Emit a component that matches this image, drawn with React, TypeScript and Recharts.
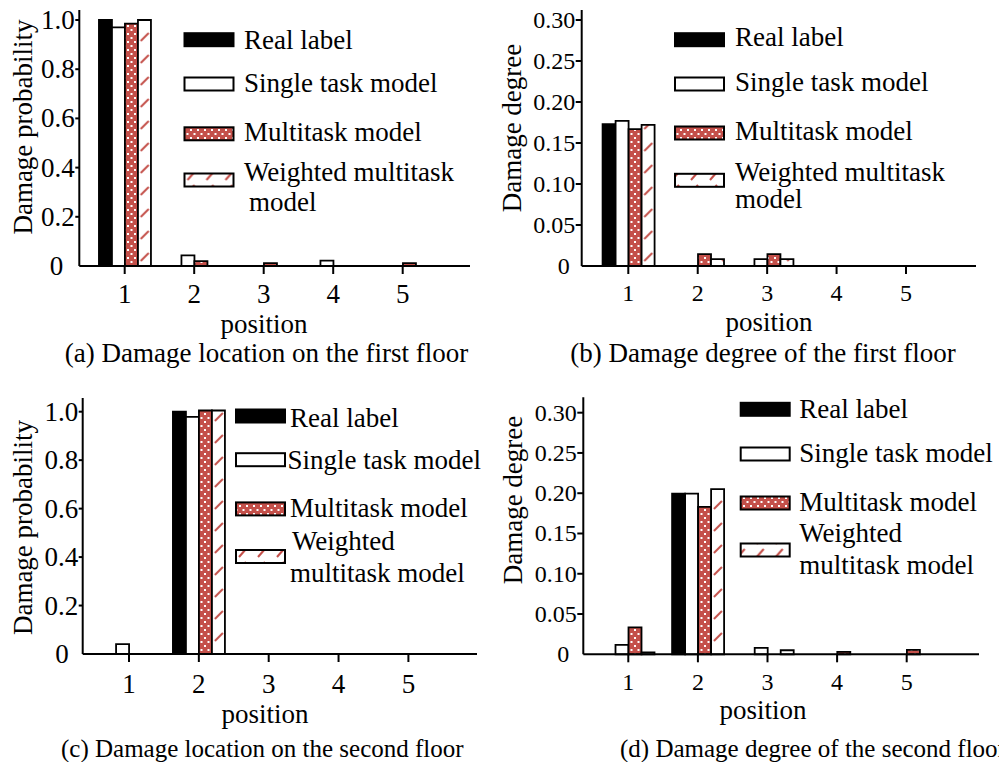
import React from 'react';
import { BarChart, Bar, XAxis, YAxis, Legend } from 'recharts';

const FONT = '"Liberation Serif", "Times New Roman", serif';
const RED = '#c4504a';

const positions = ['1', '2', '3', '4', '5'];
const seriesKeys = ['real', 'single', 'multi', 'weighted'];
const seriesNames = ['Real label', 'Single task model', 'Multitask model', 'Weighted multitask model'];

// (a) damage location on the first floor
const realA = [1, 0, 0, 0, 0];
const singleA = [0.97, 0.043, 0, 0.022, 0];
const multiA = [0.985, 0.02, 0.012, 0, 0.012];
const weightedA = [1, 0, 0, 0, 0];

// (b) damage degree of the first floor
const realB = [0.173, 0, 0, 0, 0];
const singleB = [0.177, 0, 0.0085, 0, 0];
const multiB = [0.167, 0.0146, 0.0146, 0, 0];
const weightedB = [0.172, 0.0085, 0.0085, 0, 0];

// (c) damage location on the second floor
const realC = [0, 1, 0, 0, 0];
const singleC = [0.041, 0.979, 0, 0, 0];
const multiC = [0, 1.005, 0, 0, 0];
const weightedC = [0, 1.005, 0, 0, 0];

// (d) damage degree of the second floor
const realD = [0, 0.1995, 0, 0, 0];
const singleD = [0.0116, 0.1995, 0.008, 0, 0];
const multiD = [0.0335, 0.183, 0, 0.003, 0.0055];
const weightedD = [0.0025, 0.205, 0.005, 0, 0];

const probTicks = [0, 0.2, 0.4, 0.6, 0.8, 1.0];
const degreeTicks = [0, 0.05, 0.1, 0.15, 0.2, 0.25, 0.3];

const rows = (real: number[], single: number[], multi: number[], weighted: number[]) =>
  positions.map((pos, i) => ({ pos, real: real[i], single: single[i], multi: multi[i], weighted: weighted[i] }));

type LegendRow = { swatchY: number; lines: { text: string; y: number; x?: number }[] };

type PanelProps = {
  id: string;
  box: { left: number; top: number; width: number; height: number };
  plot: { x0: number; x1: number; y0: number; y1: number; tick1: number; tick5: number };
  data: any[];
  mainCat: number;
  yMax: number;
  ticks: number[];
  decimals: number;
  tickFont: number;
  tickLen: number;
  zeroShift: number;
  xLabelGap: number;
  legend: { swatchX: number; textX: number; rows: LegendRow[] };
};

const BAR = 13;

function Panel(p: PanelProps) {
  const { box, plot } = p;
  const band = (plot.tick5 - plot.tick1) / 4;
  const padL = plot.tick1 - plot.x0 - band / 2;
  const padR = plot.x1 - plot.tick5 - band / 2;
  const yAxisW = 60;
  const xAxisH = 40;
  const margin = {
    left: plot.x0 - box.left - yAxisW,
    right: box.left + box.width - plot.x1,
    top: plot.y0 - box.top,
    bottom: box.top + box.height - plot.y1 - xAxisH,
  };
  const fills = ['#000', '#fff', `url(#dots-${p.id})`, `url(#hatch-${p.id})`];
  // align the hatch tile with the tallest weighted bar
  const hatchX = plot.tick1 + p.mainCat * band - box.left + 13;

  const yTick = (props: any) => {
    const { x, y, payload } = props;
    const v = payload.value as number;
    return (
      <g>
        {v !== 0 && <line x1={x} x2={x + p.tickLen} y1={y} y2={y} stroke="#000" strokeWidth={2} />}
        <text
          x={v === 0 ? x - p.zeroShift : x - 0.5}
          y={y}
          textAnchor="end"
          dominantBaseline="central"
          fontSize={p.tickFont}
          fontFamily={FONT}
          fill="#000"
        >
          {v === 0 ? '0' : v.toFixed(p.decimals)}
        </text>
      </g>
    );
  };

  const legendContent = () => (
    <svg width={box.width} height={box.height} style={{ display: 'block' }}>
      <defs>
        <pattern id={`lhatch-${p.id}`} x={p.legend.swatchX - box.left} width={19} height={13} patternUnits="userSpaceOnUse">
          <rect width={19} height={13} fill="#fff" />
          <line x1={3} y1={11} x2={10} y2={3} stroke={RED} strokeWidth={2} />
        </pattern>
      </defs>
      <g transform={`translate(${-box.left},${-box.top})`}>
        {p.legend.rows.map((r, i) => (
          <g key={i}>
            <rect
              x={p.legend.swatchX}
              y={r.swatchY - 6.5}
              width={49}
              height={13}
              fill={i === 3 ? `url(#lhatch-${p.id})` : fills[i]}
              stroke="#000"
              strokeWidth={2}
            />
            {r.lines.map((l, j) => (
              <text
                key={j}
                x={l.x ?? p.legend.textX}
                y={l.y}
                dominantBaseline="central"
                fontSize={27}
                fontFamily={FONT}
                fill="#000"
              >
                {l.text}
              </text>
            ))}
          </g>
        ))}
      </g>
    </svg>
  );

  return (
    <div style={{ position: 'absolute', left: box.left, top: box.top }}>
      <BarChart width={box.width} height={box.height} data={p.data} margin={margin} barGap={0} barSize={BAR}>
        <defs>
          <pattern id={`dots-${p.id}`} width={7} height={8} patternUnits="userSpaceOnUse">
            <rect width={7} height={8} fill={RED} />
            <rect x={1} y={1} width={2} height={2} fill="#fff" />
            <rect x={4.5} y={5} width={2} height={2} fill="#fff" />
          </pattern>
          <pattern id={`hatch-${p.id}`} x={hatchX} width={13} height={22} patternUnits="userSpaceOnUse">
            <rect width={13} height={22} fill="#fff" />
            <line x1={3} y1={19} x2={11} y2={11} stroke={RED} strokeWidth={2} />
          </pattern>
        </defs>
        <XAxis
          dataKey="pos"
          height={xAxisH}
          interval={0}
          padding={{ left: padL, right: padR }}
          axisLine={{ stroke: '#000', strokeWidth: 2 }}
          tickLine={{ stroke: '#000', strokeWidth: 2 }}
          tickSize={8}
          tickMargin={p.xLabelGap}
          tick={{ fontSize: p.tickFont, fontFamily: FONT, fill: '#000' }}
        />
        <YAxis
          type="number"
          width={yAxisW}
          domain={[0, p.yMax]}
          ticks={p.ticks}
          interval={0}
          axisLine={{ stroke: '#000', strokeWidth: 2 }}
          tickLine={false}
          tickSize={p.tickLen}
          tickMargin={0}
          tick={yTick}
        />
        <Legend
          layout="horizontal"
          align="center"
          verticalAlign="middle"
          wrapperStyle={{ left: 0, top: 0, width: box.width, height: box.height, margin: 0, pointerEvents: 'none' }}
          content={legendContent}
        />
        {seriesKeys.map((k, i) => (
          <Bar
            key={k}
            dataKey={k}
            name={seriesNames[i]}
            fill={fills[i]}
            stroke="#000"
            strokeWidth={1.8}
            isAnimationActive={false}
          />
        ))}
      </BarChart>
    </div>
  );
}

const legendA: LegendRow[] = [
  { swatchY: 39.7, lines: [{ text: 'Real label', y: 39.5 }] },
  { swatchY: 84, lines: [{ text: 'Single task model', y: 82.8 }] },
  { swatchY: 133.8, lines: [{ text: 'Multitask model', y: 132 }] },
  { swatchY: 180, lines: [{ text: 'Weighted multitask', y: 171.7 }, { text: 'model', y: 201.5, x: 249 }] },
];
const legendB: LegendRow[] = [
  { swatchY: 39.7, lines: [{ text: 'Real label', y: 36.7 }] },
  { swatchY: 84, lines: [{ text: 'Single task model', y: 81.7 }] },
  { swatchY: 133, lines: [{ text: 'Multitask model', y: 130.5 }] },
  { swatchY: 180.3, lines: [{ text: 'Weighted multitask', y: 171.5 }, { text: 'model', y: 199 }] },
];
const legendC: LegendRow[] = [
  { swatchY: 416, lines: [{ text: 'Real label', y: 417.5, x: 290 }] },
  { swatchY: 459.7, lines: [{ text: 'Single task model', y: 460, x: 287.5 }] },
  { swatchY: 508.9, lines: [{ text: 'Multitask model', y: 507.5, x: 290 }] },
  { swatchY: 556.5, lines: [{ text: 'Weighted', y: 540.8, x: 292 }, { text: 'multitask model', y: 573, x: 290 }] },
];
const legendD: LegendRow[] = [
  { swatchY: 409.3, lines: [{ text: 'Real label', y: 409.2 }] },
  { swatchY: 454, lines: [{ text: 'Single task model', y: 452.5 }] },
  { swatchY: 503, lines: [{ text: 'Multitask model', y: 501.7 }] },
  { swatchY: 550, lines: [{ text: 'Weighted', y: 533.3 }, { text: 'multitask model', y: 564.7 }] },
];

const textStyle = { fontFamily: FONT, fill: '#000' };

export default function App() {
  return (
    <div style={{ position: 'absolute', left: 0, top: 0, width: 999, height: 762, background: '#fff', overflow: 'hidden' }}>
      <Panel
        id="a"
        box={{ left: 0, top: 0, width: 500, height: 380 }}
        plot={{ x0: 79.3, x1: 470, y0: 10, y1: 266, tick1: 124.7, tick5: 402.7 }}
        data={rows(realA, singleA, multiA, weightedA)}
        mainCat={0}
        yMax={1.0407}
        ticks={probTicks}
        decimals={1}
        tickFont={27}
        tickLen={4}
        zeroShift={12}
        xLabelGap={10}
        legend={{ swatchX: 184.5, textX: 244, rows: legendA }}
      />
      <Panel
        id="b"
        box={{ left: 500, top: 0, width: 499, height: 380 }}
        plot={{ x0: 581.7, x1: 976, y0: 10, y1: 266, tick1: 628.3, tick5: 906 }}
        data={rows(realB, singleB, multiB, weightedB)}
        mainCat={0}
        yMax={0.3122}
        ticks={degreeTicks}
        decimals={2}
        tickFont={24}
        tickLen={6}
        zeroShift={6}
        xLabelGap={10}
        legend={{ swatchX: 675, textX: 735, rows: legendB }}
      />
      <Panel
        id="c"
        box={{ left: 0, top: 380, width: 500, height: 382 }}
        plot={{ x0: 82.7, x1: 477, y0: 398, y1: 654, tick1: 129, tick5: 408.4 }}
        data={rows(realC, singleC, multiC, weightedC)}
        mainCat={1}
        yMax={1.0565}
        ticks={probTicks}
        decimals={1}
        tickFont={27}
        tickLen={4}
        zeroShift={10}
        xLabelGap={12}
        legend={{ swatchX: 236, textX: 290, rows: legendC }}
      />
      <Panel
        id="d"
        box={{ left: 500, top: 380, width: 499, height: 382 }}
        plot={{ x0: 583.3, x1: 979, y0: 397.3, y1: 654.3, tick1: 628.3, tick5: 906.7 }}
        data={rows(realD, singleD, multiD, weightedD)}
        mainCat={1}
        yMax={0.3191}
        ticks={degreeTicks}
        decimals={2}
        tickFont={24}
        tickLen={6}
        zeroShift={8}
        xLabelGap={10.3}
        legend={{ swatchX: 740.7, textX: 799.3, rows: legendD }}
      />
      <svg width={999} height={762} style={{ position: 'absolute', left: 0, top: 0, pointerEvents: 'none' }}>
        <text transform="translate(22.6,127) rotate(-90)" textAnchor="middle" dominantBaseline="central" fontSize={27} {...textStyle}>
          Damage probability
        </text>
        <text transform="translate(512,128) rotate(-90)" textAnchor="middle" dominantBaseline="central" fontSize={27} {...textStyle}>
          Damage degree
        </text>
        <text transform="translate(22.6,527.5) rotate(-90)" textAnchor="middle" dominantBaseline="central" fontSize={27} {...textStyle}>
          Damage probability
        </text>
        <text transform="translate(513,500) rotate(-90)" textAnchor="middle" dominantBaseline="central" fontSize={27} {...textStyle}>
          Damage degree
        </text>

        <text x={264} y={324} textAnchor="middle" dominantBaseline="central" fontSize={27} {...textStyle}>position</text>
        <text x={769} y={321.5} textAnchor="middle" dominantBaseline="central" fontSize={27} {...textStyle}>position</text>
        <text x={265} y={714} textAnchor="middle" dominantBaseline="central" fontSize={27} {...textStyle}>position</text>
        <text x={763} y={710} textAnchor="middle" dominantBaseline="central" fontSize={27} {...textStyle}>position</text>

        <text x={266.5} y={353} textAnchor="middle" dominantBaseline="central" fontSize={27} {...textStyle}>
          (a) Damage location on the first floor
        </text>
        <text x={763} y={353} textAnchor="middle" dominantBaseline="central" fontSize={27} {...textStyle}>
          (b) Damage degree of the first floor
        </text>
        <text x={61} y={748} dominantBaseline="central" fontSize={25} {...textStyle}>
          (c) Damage location on the second floor
        </text>
        <text x={620} y={748} dominantBaseline="central" fontSize={25} {...textStyle}>
          (d) Damage degree of the second floor
        </text>
      </svg>
    </div>
  );
}
